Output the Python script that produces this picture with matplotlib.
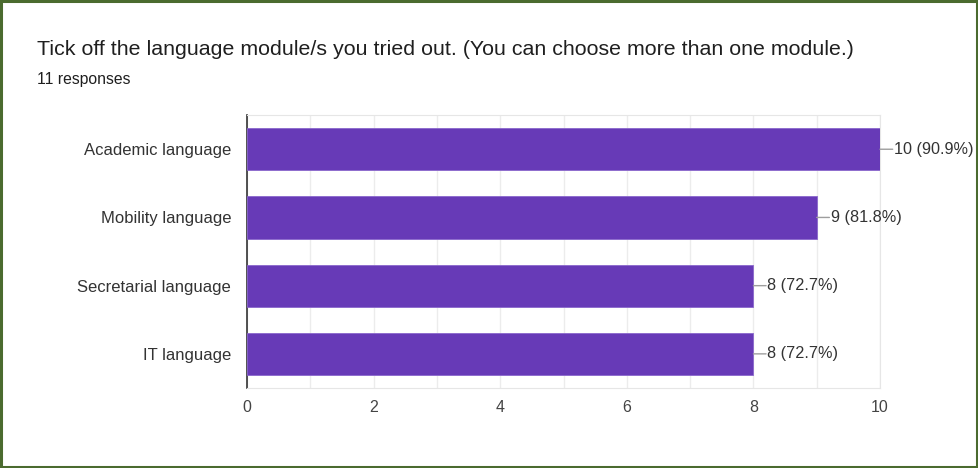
import matplotlib
matplotlib.use("Agg")
import matplotlib.pyplot as plt
from matplotlib.patches import Rectangle

categories = ["Academic language", "Mobility language", "Secretarial language", "IT language"]
counts = [10, 9, 8, 8]
labels = ["10 (90.9%)", "9 (81.8%)", "8 (72.7%)", "8 (72.7%)"]
xticks = [0, 2, 4, 6, 8, 10]
title = "Tick off the language module/s you tried out. (You can choose more than one module.)"
subtitle = "11 responses"

plt.rcParams['font.family'] = ['Liberation Sans', 'DejaVu Sans']

fig = plt.figure(figsize=(9.79, 4.68), dpi=100)
fig.patches.append(Rectangle((0.001, 0.002), 0.997, 0.995, transform=fig.transFigure,
                             fill=False, edgecolor='#4b6b2f', linewidth=2.2))

ax = fig.add_axes([0.2523, 0.171, 0.6466, 0.583])
y = list(range(len(categories)))
ax.barh(y, counts, height=0.62, color='#673ab7', edgecolor='#8a67cc', linewidth=0.6, zorder=3)
ax.set_ylim(len(categories) - 0.5, -0.5)
ax.set_xlim(0, 10)
ax.set_xticks(xticks)
ax.set_xticks(range(0, 11), minor=True)
ax.grid(axis='x', which='both', color='#ececec', linewidth=1, zorder=0)
ax.set_yticks(y)
ax.set_yticklabels(categories)
ax.tick_params(axis='y', length=0, pad=11.5, labelsize=12, labelcolor='#333333')
ax.tick_params(axis='x', which='both', length=0, pad=9, labelsize=11.5, labelcolor='#444444')
for s in ['top', 'right', 'bottom']:
    ax.spines[s].set_color('#e6e6e6')
ax.spines['left'].set_color('#333333')
ax.spines['left'].set_linewidth(1.2)

for yi, c, lab in zip(y, counts, labels):
    ax.annotate('', xy=(c, yi), xytext=(c + 0.2, yi),
                arrowprops=dict(arrowstyle='-', color='#9e9e9e', lw=1, shrinkA=0, shrinkB=0))
    ax.text(c + 0.22, yi, lab, va='center', ha='left', fontsize=11.7, color='#333333')

fig.text(0.038, 0.8825, title, fontsize=15.4, color='#1f1f1f', va='baseline')
fig.text(0.038, 0.8205, subtitle, fontsize=11.3, color='#1f1f1f', va='baseline')

fig.savefig('out.png', dpi=100)
